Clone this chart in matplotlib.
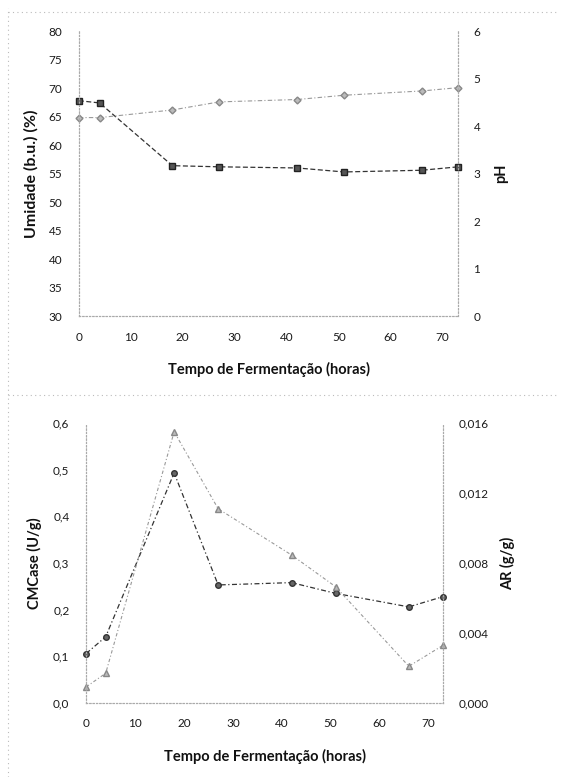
import numpy as np
import matplotlib
matplotlib.use("Agg")
import matplotlib.pyplot as plt
from matplotlib.lines import Line2D

plt.rcParams['font.family'] = ['Lato', 'DejaVu Sans']

# tempo de fermentação (horas)
tempo = [0, 4, 18, 27, 42, 51, 66, 73]

# painel superior
umidade = [67.8, 67.4, 56.4, 56.2, 56.0, 55.3, 55.6, 56.2]
ph = [4.18, 4.18, 4.34, 4.51, 4.56, 4.65, 4.74, 4.81]

# painel inferior
cmcase = [0.106, 0.142, 0.493, 0.253, 0.258, 0.235, 0.206, 0.228]
ar = [0.00092, 0.0017, 0.0155, 0.0111, 0.00846, 0.00665, 0.0021, 0.0033]

x_ticks = [0, 10, 20, 30, 40, 50, 60, 70]
xlabel = "Tempo de Fermentação (horas)"

fig = plt.figure(figsize=(5.63, 7.77), dpi=100)
fig.patch.set_facecolor("white")

LAB = dict(fontsize=10.5, fontweight='bold', color='#111111')


def style_axes(ax, ax2):
    for a in (ax, ax2):
        a.spines['top'].set_visible(False)
        for s in ('left', 'right', 'bottom'):
            a.spines[s].set_linestyle((0, (1, 2)))
            a.spines[s].set_color('#aaaaaa')
            a.spines[s].set_linewidth(0.8)
        a.tick_params(length=0, labelsize=8.5, colors='#1a1a1a')
    ax.tick_params(axis='y', pad=12)
    ax.tick_params(axis='x', pad=11)
    ax2.tick_params(axis='y', pad=11)
    ax.set_xlim(0, 73)
    ax.set_xticks(x_ticks)
    ax.set_xlabel(xlabel, labelpad=14, **LAB)


# --- painel superior: umidade e pH ---
ax1 = fig.add_axes([0.140, 0.593, 0.674, 0.367])
ax1b = ax1.twinx()
ax1.plot(tempo, umidade, color='#333333', ls=(0, (4, 2)), lw=0.9,
         marker='s', ms=4, mfc='#555555', mec='#222222', clip_on=False, zorder=3)
ax1b.plot(tempo, ph, color='#999999', ls=(0, (4, 2, 1, 2)), lw=0.8,
          marker='D', ms=3.5, mfc='#bbbbbb', mec='#888888', clip_on=False)
ax1.set_ylim(30, 80)
ax1.set_yticks(np.arange(30, 81, 5))
ax1b.set_ylim(0, 6)
ax1b.set_yticks(range(0, 7))
ax1.set_ylabel("Umidade (b.u.) (%)", labelpad=7,
               **{**LAB, 'fontsize': 11.5})
ax1b.set_ylabel("pH", rotation=90, labelpad=10, **LAB)
style_axes(ax1, ax1b)

# --- painel inferior: CMCase e AR ---
ax2 = fig.add_axes([0.153, 0.0952, 0.634, 0.3604])
ax2b = ax2.twinx()
ax2.plot(tempo, cmcase, color='#333333', ls=(0, (4, 2, 1, 2)), lw=0.9,
         marker='o', ms=4, mfc='#666666', mec='#333333', clip_on=False, zorder=3)
ax2b.plot(tempo, ar, color='#999999', ls=(0, (3, 2, 1, 2)), lw=0.8,
          marker='^', ms=4, mfc='#bbbbbb', mec='#888888', clip_on=False)
ax2.set_ylim(0, 0.6)
ax2.set_yticks(np.arange(0, 0.61, 0.1))
ax2.set_yticklabels([f"{v:.1f}".replace('.', ',') for v in np.arange(0, 0.61, 0.1)])
ax2b.set_ylim(0, 0.016)
ax2b.set_yticks(np.arange(0, 0.0161, 0.004))
ax2b.set_yticklabels([f"{v:.3f}".replace('.', ',') for v in np.arange(0, 0.0161, 0.004)])
ax2.set_ylabel("CMCase (U/g)", labelpad=8, **LAB)
ax2b.set_ylabel("AR (g/g)", rotation=90, labelpad=8, **LAB)
style_axes(ax2, ax2b)
ax2.tick_params(axis='y', pad=12)

# moldura pontilhada do documento digitalizado
frame = dict(color='#bbbbbb', lw=0.8, ls=(0, (1, 3)), transform=fig.transFigure)
fig.add_artist(Line2D([0.015, 0.015], [0.0, 0.99], **frame))
fig.add_artist(Line2D([0.015, 0.99], [0.985, 0.985], **frame))
fig.add_artist(Line2D([0.015, 0.99], [0.491, 0.491], **frame))

fig.savefig("out.png", dpi=100, facecolor="white")
